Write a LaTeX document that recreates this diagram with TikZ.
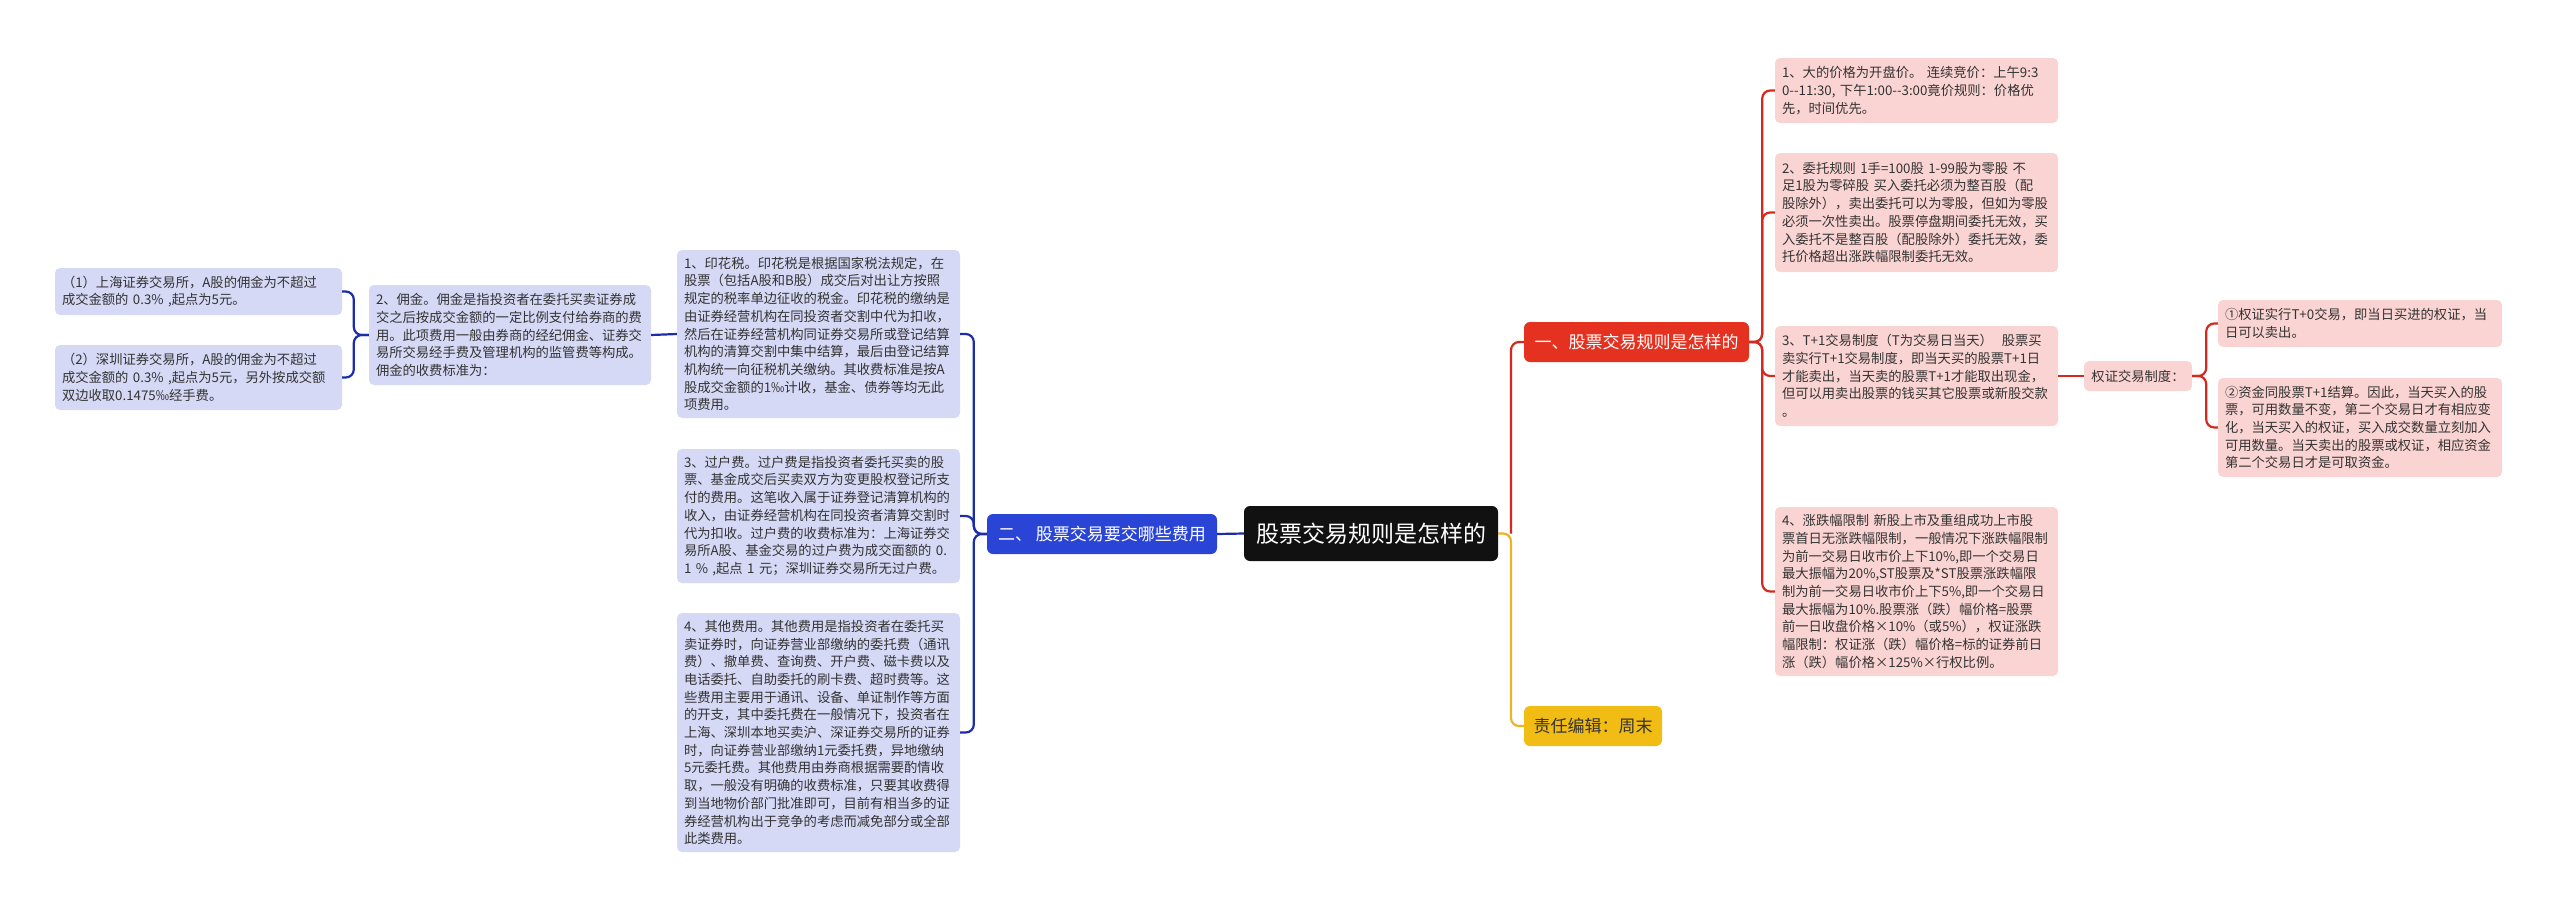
\documentclass[tikz,border=0pt]{standalone}
\usepackage{fontspec}
\setmainfont{Noto Sans CJK SC}
\definecolor{rootc}{HTML}{111111}
\definecolor{redn}{HTML}{E5311F}
\definecolor{redl}{HTML}{D42A1E}
\definecolor{pinkf}{HTML}{FAD4D2}
\definecolor{bluen}{HTML}{2A44D6}
\definecolor{bluel}{HTML}{1B2DA8}
\definecolor{lavf}{HTML}{D5D9F5}
\definecolor{yeln}{HTML}{F1BC14}
\definecolor{yell}{HTML}{EBB425}
\definecolor{txt}{HTML}{333333}
\begin{document}
\begin{tikzpicture}[x=1pt,y=-1pt,
  leaf/.style={rounded corners=5pt, align=left, inner xsep=7pt, inner ysep=0pt,
    text=txt, font=\fontsize{13.3}{17.7}\selectfont, text width=269pt},
  pinkleaf/.style={leaf, fill=pinkf},
  lavleaf/.style={leaf, fill=lavf},
  mainnode/.style={rounded corners=6pt, inner sep=0pt, minimum height=40pt,
    font=\fontsize{17}{20}\selectfont},
  rootnode/.style={rounded corners=6pt, inner sep=0pt, fill=rootc, text=white,
    minimum width=254pt, minimum height=55pt, font=\fontsize{23}{28}\selectfont},
  conn/.style={line width=2.2pt, rounded corners=8pt},
  redc/.style={conn, draw=redl},
  bluec/.style={conn, draw=bluel},
  yelc/.style={conn, draw=yell}
]
\useasboundingbox (0,0) rectangle (2560,911);

% root and main branches
\node[rootnode] (root) at (1371,533.5) {股票交易规则是怎样的};
\node[mainnode, fill=bluen, text=white, minimum width=230pt] (fees) at (1102,534) {二、\ 股票交易要交哪些费用};
\node[mainnode, fill=redn, text=white, minimum width=225pt] (rules) at (1636.5,342) {一、股票交易规则是怎样的};
\node[mainnode, fill=yeln, text=txt, minimum width=138pt] (editor) at (1593,726) {责任编辑：周末};
\coordinate (j) at (1511,533.5);

% right leaves
\node[pinkleaf, minimum height=65pt] (r1) at (1916.5,90.5) {1、大的价格为开盘价。~连续竞价：上午9:3\\0-{}-11:30,~下午1:00-{}-3:00竟价规则：价格优\\先，时间优先。};
\node[pinkleaf, minimum height=119pt] (r2) at (1916.5,212.5) {2、委托规则~1手=100股~1-99股为零股~不\\足1股为零碎股~买入委托必须为整百股（配\\股除外），卖出委托可以为零股，但如为零股\\必须一次性卖出。股票停盘期间委托无效，买\\入委托不是整百股（配股除外）委托无效，委\\托价格超出涨跌幅限制委托无效。};
\node[pinkleaf, minimum height=100pt] (r3) at (1916.5,376) {3、T+1交易制度（T为交易日当天）~~股票买\\卖实行T+1交易制度，即当天买的股票T+1日\\才能卖出，当天卖的股票T+1才能取出现金，\\但可以用卖出股票的钱买其它股票或新股交款\\。};
\node[pinkleaf, minimum height=169pt] (r4) at (1916.5,591.5) {4、涨跌幅限制~新股上市及重组成功上市股\\票首日无涨跌幅限制，一般情况下涨跌幅限制\\为前一交易日收市价上下10\%,即一个交易日\\最大振幅为20\%,ST股票及*ST股票涨跌幅限\\制为前一交易日收市价上下5\%,即一个交易日\\最大振幅为10\%.股票涨（跌）幅价格=股票\\前一日收盘价格×10\%（或5\%），权证涨跌\\幅限制：权证涨（跌）幅价格=标的证券前日\\涨（跌）幅价格×125\%×行权比例。};
\node[rounded corners=5pt, fill=pinkf, text=txt, inner sep=0pt, minimum width=108pt, minimum height=30pt, font=\fontsize{13.3}{17.7}\selectfont] (qz) at (2138,376) {权证交易制度：};
\node[pinkleaf, text width=270pt, minimum height=47pt] (q1) at (2360,323.5) {①权证实行T+0交易，即当日买进的权证，当\\日可以卖出。};
\node[pinkleaf, text width=270pt, minimum height=99pt] (q2) at (2360,427.5) {②资金同股票T+1结算。因此，当天买入的股\\票，可用数量不变，第二个交易日才有相应变\\化，当天买入的权证，买入成交数量立刻加入\\可用数量。当天卖出的股票或权证，相应资金\\第二个交易日才是可取资金。};

% left leaves
\node[lavleaf, minimum height=168pt] (l1) at (818.5,334) {1、印花税。印花税是根据国家税法规定，在\\股票（包括A股和B股）成交后对出让方按照\\规定的税率单边征收的税金。印花税的缴纳是\\由证券经营机构在同投资者交割中代为扣收，\\然后在证券经营机构同证券交易所或登记结算\\机构的清算交割中集中结算，最后由登记结算\\机构统一向征税机关缴纳。其收费标准是按A\\股成交金额的1‰计收，基金、债券等均无此\\项费用。};
\node[lavleaf, minimum height=134pt] (l3) at (818.5,516) {3、过户费。过户费是指投资者委托买卖的股\\票、基金成交后买卖双方为变更股权登记所支\\付的费用。这笔收入属于证券登记清算机构的\\收入，由证券经营机构在同投资者清算交割时\\代为扣收。过户费的收费标准为：上海证券交\\易所A股、基金交易的过户费为成交面额的~0.\\1~\%~,起点~1~元；深圳证券交易所无过户费。};
\node[lavleaf, minimum height=239pt] (l4) at (818.5,732.5) {4、其他费用。其他费用是指投资者在委托买\\卖证券时，向证券营业部缴纳的委托费（通讯\\费）、撤单费、查询费、开户费、磁卡费以及\\电话委托、自助委托的刷卡费、超时费等。这\\些费用主要用于通讯、设备、单证制作等方面\\的开支，其中委托费在一般情况下，投资者在\\上海、深圳本地买卖沪、深证券交易所的证券\\时，向证券营业部缴纳1元委托费，异地缴纳\\5元委托费。其他费用由券商根据需要酌情收\\取，一般没有明确的收费标准，只要其收费得\\到当地物价部门批准即可，目前有相当多的证\\券经营机构出于竞争的考虑而减免部分或全部\\此类费用。};
\node[lavleaf, text width=268pt, minimum height=100pt] (yj) at (510,335) {2、佣金。佣金是指投资者在委托买卖证券成\\交之后按成交金额的一定比例支付给券商的费\\用。此项费用一般由券商的经纪佣金、证券交\\易所交易经手费及管理机构的监管费等构成。\\佣金的收费标准为：};
\node[lavleaf, text width=273pt, minimum height=47pt] (p1) at (198.5,291.5) {（1）上海证券交易所，A股的佣金为不超过\\成交金额的~0.3\%~,起点为5元。};
\node[lavleaf, text width=273pt, minimum height=65pt] (p2) at (198.5,377.5) {（2）深圳证券交易所，A股的佣金为不超过\\成交金额的~0.3\%~,起点为5元，另外按成交额\\双边收取0.1475‰经手费。};

% connectors: root
\draw[bluec] (fees.east) -- (root.west);
\draw[yelc] (root.east) -- (j) |- (editor.west);
\draw[redc] (j) |- (rules.west);

% red branch
\foreach \c in {r1,r2,r3,r4}
  \draw[redc] (rules.east) -- ++(13,0) |- (\c.west);
\draw[redc] (r3.east) -- (qz.west);
\foreach \c in {q1,q2}
  \draw[redc] (qz.east) -- ++(14,0) |- (\c.west);

% blue branch
\foreach \c in {l1,l3,l4}
  \draw[bluec] (fees.west) -- ++(-13,0) |- (\c.east);
\draw[bluec] (l1.west) -- (yj.east);
\foreach \c in {p1,p2}
  \draw[bluec] (yj.west) -- ++(-15,0) |- (\c.east);
\end{tikzpicture}
\end{document}
